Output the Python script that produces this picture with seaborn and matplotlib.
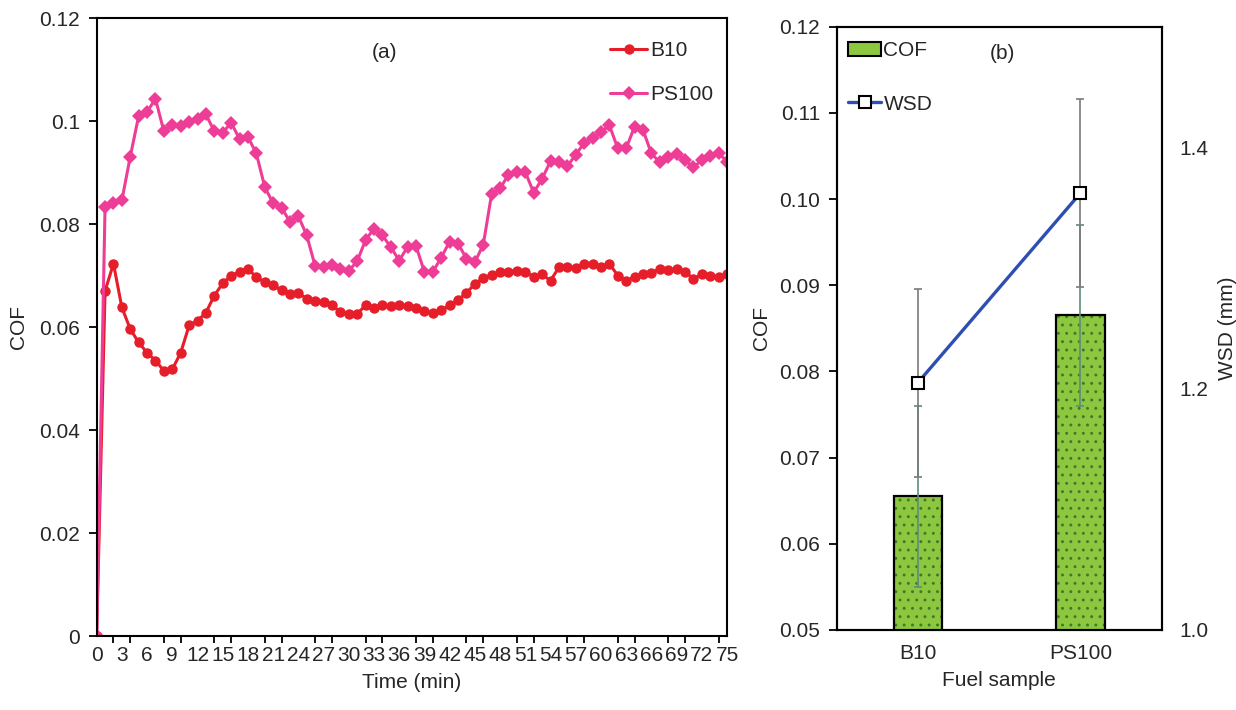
import numpy as np
import pandas as pd
import matplotlib
matplotlib.use("Agg")
import matplotlib.pyplot as plt
import seaborn as sns
from matplotlib.patches import Patch
from matplotlib.lines import Line2D

# ---------------- data ----------------
time_min = list(range(0, 76))
b10_cof = [
    0.0, 0.0670, 0.0723, 0.0638, 0.0596, 0.0570, 0.0550, 0.0535, 0.0515, 0.0518,
    0.0550, 0.0603, 0.0612, 0.0628, 0.0661, 0.0685, 0.0700, 0.0707, 0.0713, 0.0697,
    0.0687, 0.0681, 0.0671, 0.0664, 0.0666, 0.0655, 0.0651, 0.0648, 0.0642, 0.0629,
    0.0626, 0.0626, 0.0642, 0.0637, 0.0642, 0.0640, 0.0642, 0.0640, 0.0637, 0.0631,
    0.0627, 0.0633, 0.0642, 0.0653, 0.0666, 0.0684, 0.0695, 0.0701, 0.0707, 0.0707,
    0.0709, 0.0707, 0.0698, 0.0702, 0.0690, 0.0716, 0.0716, 0.0715, 0.0723, 0.0723,
    0.0716, 0.0723, 0.0700, 0.0690, 0.0697, 0.0703, 0.0705, 0.0713, 0.0710, 0.0712,
    0.0707, 0.0694, 0.0702, 0.0700, 0.0697, 0.0703,
]
ps100_cof = [
    0.0, 0.0833, 0.0840, 0.0846, 0.0931, 0.1010, 0.1018, 0.1043, 0.0980, 0.0992,
    0.0990, 0.0998, 0.1004, 0.1013, 0.0980, 0.0977, 0.0997, 0.0965, 0.0969, 0.0937,
    0.0872, 0.0840, 0.0832, 0.0804, 0.0815, 0.0778, 0.0718, 0.0716, 0.0720, 0.0712,
    0.0709, 0.0728, 0.0769, 0.0791, 0.0778, 0.0755, 0.0729, 0.0756, 0.0757, 0.0707,
    0.0707, 0.0735, 0.0766, 0.0762, 0.0733, 0.0726, 0.0760, 0.0859, 0.0869, 0.0896,
    0.0901, 0.0901, 0.0861, 0.0888, 0.0922, 0.0921, 0.0912, 0.0935, 0.0957, 0.0968,
    0.0978, 0.0992, 0.0947, 0.0947, 0.0989, 0.0983, 0.0937, 0.0920, 0.0930, 0.0936,
    0.0924, 0.0910, 0.0924, 0.0932, 0.0938, 0.0921,
]
time_ticks = list(range(0, 76, 3))
cof_ticks_a = [0.0, 0.02, 0.04, 0.06, 0.08, 0.10, 0.12]
cof_ticklabels_a = ["0", "0.02", "0.04", "0.06", "0.08", "0.1", "0.12"]

samples = ["B10", "PS100"]
cof_mean = [0.0655, 0.0865]
cof_err = [0.0105, 0.0105]
wsd_mean = [1.205, 1.362]
wsd_err = [0.078, 0.078]
cof_ticks_b = [0.05, 0.06, 0.07, 0.08, 0.09, 0.10, 0.11, 0.12]
cof_ticklabels_b = ["0.05", "0.06", "0.07", "0.08", "0.09", "0.10", "0.11", "0.12"]
wsd_ticks = [1.0, 1.2, 1.4]
wsd_ticklabels = ["1.0", "1.2", "1.4"]

# ---------------- style ----------------
sns.set_theme(style="ticks")
plt.rcParams["font.family"] = ["Liberation Sans", "DejaVu Sans"]
plt.rcParams["hatch.linewidth"] = 0.9
FS = 15

RED = "#e61e2a"
PINK = "#ee3d96"
GREEN = "#8dc63f"
DOT = "#3a7a2a"
BLUE = "#2f4fb0"

fig = plt.figure(figsize=(12.36, 7.10), dpi=100)
axA = fig.add_axes([0.0782, 0.1042, 0.510, 0.8704])
axB = fig.add_axes([0.6769, 0.1127, 0.2629, 0.8497])

# ---------------- panel (a) ----------------
sns.lineplot(x=time_min, y=b10_cof, ax=axA, color=RED, linewidth=2.2,
             marker="o", markersize=7.5, markeredgewidth=0, label="B10")
sns.lineplot(x=time_min, y=ps100_cof, ax=axA, color=PINK, linewidth=2.2,
             marker="D", markersize=7.5, markeredgewidth=0, label="PS100")

axA.set_xlim(0, 75)
axA.set_ylim(0, 0.12)
axA.set_yticks(cof_ticks_a)
axA.set_yticklabels(cof_ticklabels_a, fontsize=FS)
axA.set_xticks(time_ticks)
axA.set_xticklabels([str(t) for t in time_ticks], fontsize=FS)
axA.set_xticks(list(range(0, 76, 2)), minor=True)
axA.tick_params(axis="x", which="major", length=0, pad=7)
axA.tick_params(axis="x", which="minor", length=5, width=1.3, color="black", direction="out")
axA.tick_params(axis="y", length=6, width=1.3, color="black", direction="out", pad=6)
axA.set_xlabel("Time (min)", fontsize=FS, labelpad=6)
axA.set_ylabel("COF", fontsize=FS, labelpad=8)
for s in axA.spines.values():
    s.set_visible(True)
    s.set_color("black")
    s.set_linewidth(1.5)
axA.text(0.457, 0.945, "(a)", transform=axA.transAxes, fontsize=FS,
         ha="center", va="center")
axA.legend(loc="upper right", bbox_to_anchor=(0.978, 0.963), borderaxespad=0,
           borderpad=0, frameon=False, fontsize=FS, handlelength=1.75,
           handletextpad=0.15, labelspacing=1.2)

# ---------------- panel (b) ----------------
df = pd.DataFrame({"sample": samples, "cof": cof_mean})
sns.barplot(data=df, x="sample", y="cof", ax=axB, color=GREEN, saturation=1,
            width=0.3, errorbar=None, hatch="..", linewidth=0)
for p in axB.patches:
    p.set_edgecolor(DOT)
    p.set_linewidth(0)
n_fill = len(axB.patches)
sns.barplot(data=df, x="sample", y="cof", ax=axB, color="black", saturation=1,
            width=0.3, errorbar=None, fill=False, linewidth=1.6)
for p in axB.patches[n_fill:]:
    p.set_facecolor("none")
    p.set_edgecolor("black")
    p.set_linewidth(1.6)

pos = list(range(len(samples)))
axB.errorbar(x=pos, y=cof_mean, yerr=cof_err, fmt="none", ecolor="#5f8c7c",
             elinewidth=1.2, capsize=3, capthick=1.2, zorder=5)

axB.set_ylim(0.05, 0.12)
axB.set_yticks(cof_ticks_b)
axB.set_yticklabels(cof_ticklabels_b, fontsize=FS)
axB.tick_params(axis="y", length=6, width=1.3, color="black", direction="out", pad=6)
axB.tick_params(axis="x", length=0, pad=10, labelsize=FS)
axB.set_xlabel("Fuel sample", fontsize=FS, labelpad=6)
axB.set_ylabel("COF", fontsize=FS, labelpad=6)

axW = axB.twinx()
axW.errorbar(x=pos, y=wsd_mean, yerr=wsd_err, fmt="none", ecolor="#7a7a7a",
             elinewidth=1.2, capsize=3, capthick=1.2)
sns.lineplot(x=pos, y=wsd_mean, ax=axW, color=BLUE, linewidth=2.4, marker="s",
             markersize=8.5, markerfacecolor="white", markeredgecolor="black",
             markeredgewidth=1.5, legend=False)
axW.set_ylim(1.0, 1.5)
axW.set_yticks(wsd_ticks)
axW.set_yticklabels(wsd_ticklabels, fontsize=FS)
axW.tick_params(axis="y", length=0, pad=13)
axW.set_ylabel("WSD (mm)", fontsize=FS, labelpad=7)
axB.set_xlim(-0.5, 1.5)

for ax in (axB, axW):
    for s in ax.spines.values():
        s.set_visible(True)
        s.set_color("black")
        s.set_linewidth(1.5)

axW.text(0.51, 0.955, "(b)", transform=axW.transAxes, fontsize=FS,
         ha="center", va="center")

handles = [
    Patch(facecolor=GREEN, edgecolor="black", linewidth=1.5, label="COF"),
    Line2D([0], [0], color=BLUE, linewidth=2.4, marker="s", markersize=8.5,
           markerfacecolor="white", markeredgecolor="black", markeredgewidth=1.5,
           label="WSD"),
]
axW.legend(handles=handles, loc="upper left", bbox_to_anchor=(0.035, 0.976),
           borderaxespad=0, borderpad=0, frameon=False, fontsize=FS,
           handlelength=1.6, handletextpad=0.1, labelspacing=1.65)

fig.savefig("out.png", dpi=100)
